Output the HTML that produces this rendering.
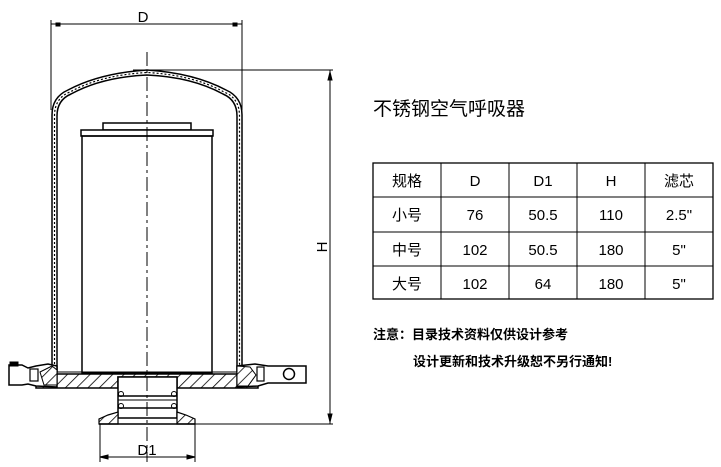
<!DOCTYPE html>
<html><head><meta charset="utf-8"><style>
body{margin:0;background:#fff;}
svg{display:block}
</style></head><body>
<svg width="721" height="467" viewBox="0 0 721 467" xmlns="http://www.w3.org/2000/svg" font-family="Liberation Sans, sans-serif">
<defs>
<pattern id="h" width="8" height="8" patternUnits="userSpaceOnUse" patternTransform="rotate(45)">
<rect width="8" height="8" fill="#fff"/><line x1="0" y1="0" x2="0" y2="8" stroke="#000" stroke-width="1.6"/></pattern>
</defs>
<g stroke="#000" fill="none">
<!-- D dimension -->
<line x1="51" y1="24" x2="242" y2="24" stroke-width="1"/>
<line x1="51" y1="20" x2="51" y2="110" stroke-width="1"/>
<line x1="242" y1="20" x2="242" y2="110" stroke-width="1"/>
<rect x="56" y="23" width="4" height="3" fill="#000"/><rect x="233" y="23" width="4" height="3" fill="#000"/>
<!-- H dimension -->
<line x1="133" y1="70" x2="333" y2="70" stroke-width="1"/>
<line x1="195" y1="424" x2="333" y2="424" stroke-width="1"/>
<line x1="330" y1="70" x2="330" y2="424" stroke-width="1"/>
<path d="M328 80 L330 72 L332 80Z M328 414 L330 422 L332 414Z" fill="#000"/>
<!-- dome shell -->
<path d="M52 372 L52 115 Q52 97 68 90 Q100 73 147 70 Q194 73 226 90 Q242 97 242 115 L242 372" stroke-width="1.5"/>
<path d="M57 372 L57 116 Q57 100 71 94 Q102 77 147 75 Q192 77 223 94 Q237 100 237 116 L237 372" stroke-width="1.5"/>
<path d="M54.5 372 L54.5 116 Q54.5 98 70 92 Q101 75 147 72.5 Q193 75 224 92 Q239.5 98 239.5 116 L239.5 372" stroke-width="1.2" stroke-dasharray="2 2"/>
<!-- filter -->
<rect x="103" y="123" width="88" height="7" stroke-width="1.5" fill="#fff"/>
<rect x="81" y="130" width="132" height="6" stroke-width="1.5" fill="#fff"/>
<rect x="82" y="136" width="130" height="237" stroke-width="1.5"/>
<!-- base plate -->
<path d="M36 374 L258 374 L258 388 L177 388 L177 377 L118 377 L118 388 L36 388Z" fill="url(#h)" stroke-width="1.5"/>
<line x1="36" y1="372" x2="258" y2="372" stroke-width="1"/>
<!-- neck -->
<rect x="118" y="377" width="59" height="41" stroke-width="1.5" fill="#fff"/>
<line x1="118" y1="396" x2="177" y2="396" stroke-width="1.5"/>
<line x1="118" y1="408" x2="177" y2="408" stroke-width="1.5"/>
<line x1="118" y1="400" x2="177" y2="400" stroke-width="1"/>
<circle cx="121" cy="394" r="2.5" stroke-width="1"/><circle cx="174" cy="394" r="2.5" stroke-width="1"/>
<circle cx="121" cy="406" r="2.5" stroke-width="1"/><circle cx="174" cy="406" r="2.5" stroke-width="1"/>
<path d="M99 424 L99 419 L108 415 L118 412 L118 424Z" fill="url(#h)" stroke-width="1.2"/>
<path d="M195 424 L195 419 L186 415 L177 412 L177 424Z" fill="url(#h)" stroke-width="1.2"/>
<line x1="99" y1="424" x2="195" y2="424" stroke-width="1.5"/>
<!-- left clamp -->
<path d="M9 365 L22 365 L28 368 L36 366 L48 364 L57 366 L57 387 L36 386 L28 384 L22 385 L9 385Z" stroke-width="1.5" fill="#fff"/>
<rect x="10" y="362" width="8" height="4" fill="#000"/>
<path d="M40 372 L52 366 L57 370 L57 385 L44 385Z" fill="url(#h)" stroke-width="1"/>
<rect x="30" y="369" width="8" height="12" stroke-width="1.2" fill="#fff"/>
<!-- right clamp -->
<path d="M237 366 L255 364 L268 366 L306 366 L306 383 L268 383 L258 386 L237 387Z" stroke-width="1.5" fill="#fff"/>
<path d="M237 366 L250 367 L256 375 L248 386 L237 386Z" fill="url(#h)" stroke-width="1"/>
<rect x="257" y="367" width="7" height="14" stroke-width="1.2" fill="#fff"/>
<circle cx="289" cy="374" r="5.5" stroke-width="1.5"/>
<!-- centerline -->
<line x1="147" y1="52" x2="147" y2="462" stroke-width="1" stroke-dasharray="14 4 3 4"/>
<!-- D1 dim -->
<line x1="100" y1="424" x2="100" y2="462" stroke-width="1"/>
<line x1="195" y1="424" x2="195" y2="462" stroke-width="1"/>
<line x1="100" y1="457" x2="195" y2="457" stroke-width="1"/>
<path d="M108 455 L100 457 L108 459Z M187 455 L195 457 L187 459Z" fill="#000"/>
<!-- table -->
<rect x="373" y="163" width="340" height="136" stroke-width="1.3"/>
<line x1="441" y1="163" x2="441" y2="299"/><line x1="509" y1="163" x2="509" y2="299"/>
<line x1="577" y1="163" x2="577" y2="299"/><line x1="645" y1="163" x2="645" y2="299"/>
<line x1="373" y1="197" x2="713" y2="197"/><line x1="373" y1="232" x2="713" y2="232"/><line x1="373" y1="266" x2="713" y2="266"/>
</g>
<g fill="#000" font-size="15" text-anchor="middle">
<text x="143" y="22">D</text>
<text x="147" y="455">D1</text>
<text x="0" y="0" transform="translate(327,247) rotate(-90)">H</text>
</g>
<text x="373" y="115" font-size="19" font-family="Liberation Sans, Noto Sans CJK SC, sans-serif">不锈钢空气呼吸器</text>
<g font-size="15" text-anchor="middle" font-family="Liberation Sans, Noto Sans CJK SC, sans-serif">
<text x="407" y="186">规格</text><text x="475" y="186">D</text><text x="543" y="186">D1</text><text x="611" y="186">H</text><text x="679" y="186">滤芯</text>
<text x="407" y="220">小号</text><text x="475" y="220">76</text><text x="543" y="220">50.5</text><text x="611" y="220">110</text><text x="679" y="220">2.5"</text>
<text x="407" y="255">中号</text><text x="475" y="255">102</text><text x="543" y="255">50.5</text><text x="611" y="255">180</text><text x="679" y="255">5"</text>
<text x="407" y="289">大号</text><text x="475" y="289">102</text><text x="543" y="289">64</text><text x="611" y="289">180</text><text x="679" y="289">5"</text>
</g>
<g font-size="13" font-weight="bold" font-family="Liberation Sans, Noto Sans CJK SC, sans-serif">
<text x="373" y="339">注意：目录技术资料仅供设计参考</text>
<text x="413" y="366">设计更新和技术升级恕不另行通知!</text>
</g>
</svg>
</body></html>
